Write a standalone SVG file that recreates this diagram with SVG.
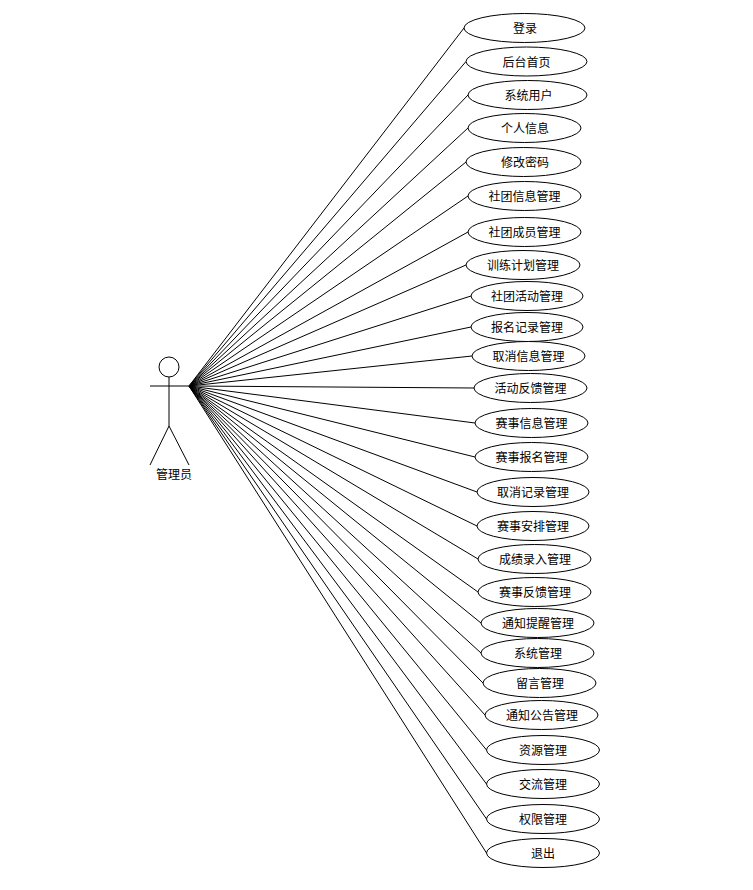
<svg xmlns="http://www.w3.org/2000/svg" width="753" height="890" viewBox="0 0 753 890">
<style>
.s{fill:none;stroke:#000;stroke-width:1}
.e{fill:#fff;stroke:#000;stroke-width:1}
text{font-family:"Noto Sans CJK SC","Noto Sans",sans-serif;font-size:12px;fill:#000;text-anchor:middle;dominant-baseline:central;transform:translateY(-0.5px)}
</style>
<rect width="753" height="890" fill="#fff"/>
<g id="connectors" class="s">
<path d="M189 386L464 28M189 386L466 61.500M189 386L468 95M189 386L468 128M189 386L466 162M189 386L468 196M189 386L468 232M189 386L466 265M189 386L471 296M189 386L471 327M189 386L472 356M189 386L474 388M189 386L475 423M189 386L475 457M189 386L477 492M189 386L477 526M189 386L478 559M189 386L478 592M189 386L481 623M189 386L481 653M189 386L483 683M189 386L485 715M189 386L486.500 750M189 386L486.500 784M189 386L486.500 819M189 386L486.500 853"/>
</g>
<g id="actor"><circle class="s" cx="169" cy="367" r="10"/><path class="s" d="M169 377V426M150 386H189M169 426L150 465M169 426L189 465"/><text x="174" y="473.500">管理员</text></g>
<g id="n1"><ellipse class="e" cx="524.500" cy="28" rx="60.500" ry="14.500"/><text x="525" y="28">登录</text></g>
<g id="n2"><ellipse class="e" cx="526.500" cy="61.500" rx="60.500" ry="14.500"/><text x="526.500" y="61.500">后台首页</text></g>
<g id="n3"><ellipse class="e" cx="527.500" cy="95" rx="59.500" ry="14.500"/><text x="528.500" y="95">系统用户</text></g>
<g id="n4"><ellipse class="e" cx="524.500" cy="128" rx="56.500" ry="14.500"/><text x="525" y="128">个人信息</text></g>
<g id="n5"><ellipse class="e" cx="523.500" cy="162" rx="57.500" ry="14.500"/><text x="525" y="162">修改密码</text></g>
<g id="n6"><ellipse class="e" cx="524.500" cy="196" rx="56.500" ry="14.500"/><text x="524.500" y="196">社团信息管理</text></g>
<g id="n7"><ellipse class="e" cx="524.500" cy="232" rx="56.500" ry="14.500"/><text x="524.500" y="232">社团成员管理</text></g>
<g id="n8"><ellipse class="e" cx="523" cy="265" rx="57" ry="14.500"/><text x="523" y="265">训练计划管理</text></g>
<g id="n9"><ellipse class="e" cx="527" cy="296" rx="56" ry="14.500"/><text x="527" y="296">社团活动管理</text></g>
<g id="n10"><ellipse class="e" cx="527" cy="327" rx="56" ry="14.500"/><text x="527" y="327">报名记录管理</text></g>
<g id="n11"><ellipse class="e" cx="528.500" cy="356" rx="56.500" ry="14.500"/><text x="528.500" y="356">取消信息管理</text></g>
<g id="n12"><ellipse class="e" cx="530.500" cy="388" rx="56.500" ry="14.500"/><text x="530.500" y="388">活动反馈管理</text></g>
<g id="n13"><ellipse class="e" cx="531.500" cy="423" rx="56.500" ry="14.500"/><text x="531.500" y="423">赛事信息管理</text></g>
<g id="n14"><ellipse class="e" cx="531.500" cy="457" rx="56.500" ry="14.500"/><text x="531.500" y="457">赛事报名管理</text></g>
<g id="n15"><ellipse class="e" cx="533" cy="492" rx="56" ry="14.500"/><text x="533" y="492">取消记录管理</text></g>
<g id="n16"><ellipse class="e" cx="533" cy="526" rx="56" ry="14.500"/><text x="533" y="526">赛事安排管理</text></g>
<g id="n17"><ellipse class="e" cx="534.500" cy="559" rx="56.500" ry="14.500"/><text x="535" y="559">成绩录入管理</text></g>
<g id="n18"><ellipse class="e" cx="534.500" cy="592" rx="56.500" ry="14.500"/><text x="535" y="592">赛事反馈管理</text></g>
<g id="n19"><ellipse class="e" cx="537.500" cy="623" rx="56.500" ry="14.500"/><text x="538" y="623">通知提醒管理</text></g>
<g id="n20"><ellipse class="e" cx="537.500" cy="653" rx="56.500" ry="14.500"/><text x="538" y="653">系统管理</text></g>
<g id="n21"><ellipse class="e" cx="539.500" cy="683" rx="56.500" ry="14.500"/><text x="540" y="683">留言管理</text></g>
<g id="n22"><ellipse class="e" cx="541.500" cy="715" rx="56.500" ry="14.500"/><text x="542" y="715">通知公告管理</text></g>
<g id="n23"><ellipse class="e" cx="543" cy="750" rx="56.500" ry="14.500"/><text x="543" y="750">资源管理</text></g>
<g id="n24"><ellipse class="e" cx="543" cy="784" rx="56.500" ry="14.500"/><text x="543" y="784">交流管理</text></g>
<g id="n25"><ellipse class="e" cx="543" cy="819" rx="56.500" ry="14.500"/><text x="543" y="819">权限管理</text></g>
<g id="n26"><ellipse class="e" cx="543" cy="853" rx="56.500" ry="14.500"/><text x="543" y="853">退出</text></g>
</svg>
